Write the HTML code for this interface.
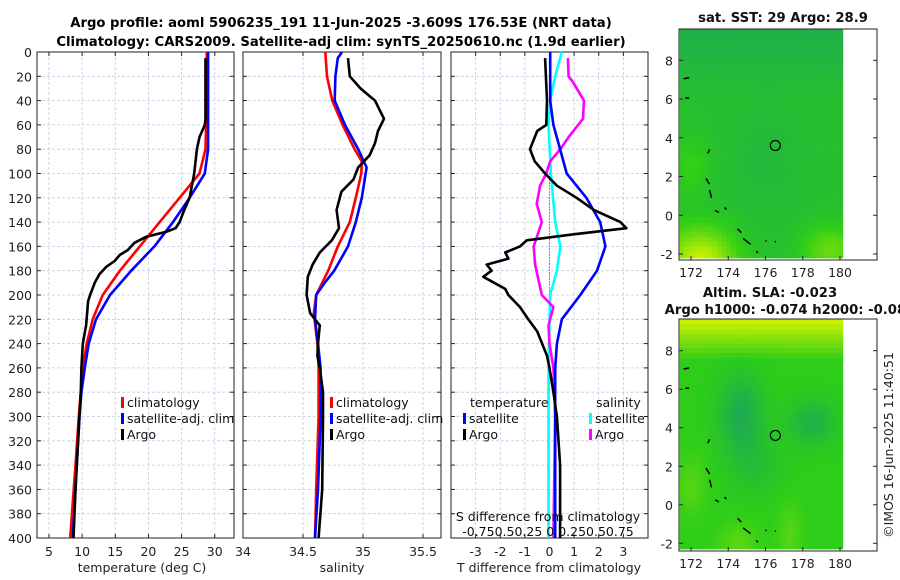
<!DOCTYPE html>
<html><head><meta charset="utf-8"><style>
body{margin:0;background:#fff;}
svg{display:block;font-family:"DejaVu Sans","Liberation Sans",sans-serif;}
</style></head><body>
<svg id="fig" width="900" height="580" viewBox="0 0 900 580">
<rect width="900" height="580" fill="#fff"/>
<text x="341" y="27" text-anchor="middle" font-weight="bold" font-size="13.2">Argo profile: aoml 5906235_191 11-Jun-2025 -3.609S 176.53E (NRT data)</text>
<text x="341" y="46" text-anchor="middle" font-weight="bold" font-size="13.2">Climatology: CARS2009. Satellite-adj clim: synTS_20250610.nc (1.9d earlier)</text>
<g id="panels"></g>
<g id="maps"></g>
<text transform="translate(893,445) rotate(-90)" text-anchor="middle" font-size="12.5" fill="#222">©IMOS 16-Jun-2025 11:40:51</text>
</svg>
<script>
// ---- data (depth in m) ----
const tClimDepth=[0,60,80,100,120,140,160,180,200,220,240,260,280,300,340,400];
const tClimVal=[28.8,28.7,28.6,27.7,24.7,21.7,18.7,15.7,13.1,11.6,10.7,10.1,9.8,9.5,9.0,8.2];
const tSatDepth=[0,40,80,100,120,140,160,180,200,220,240,260,280,300,340,400];
const tSatVal=[29.0,29.0,29.0,28.5,26.2,23.7,20.9,17.4,14.2,12.1,11.0,10.4,9.9,9.6,9.2,8.6];
const tArgoDepth=[5,20,55,60,70,80,100,120,130,140,145,148,152,157,163,167,172,177,183,190,200,205,225,240,260,280,320,360,400];
const tArgoVal=[28.6,28.6,28.6,28.5,27.7,27.3,26.9,26.2,25.4,24.7,24.1,22.7,19.7,17.9,16.9,15.7,14.9,13.6,12.6,11.9,11.2,10.9,10.6,10.1,9.9,9.8,9.4,9.0,8.7];
const sClimDepth=[0,20,40,60,80,90,100,120,140,160,180,200,215,240,260,300,360,400];
const sClimVal=[34.686,34.70,34.744,34.83,34.93,34.99,34.986,34.94,34.89,34.79,34.71,34.61,34.59,34.62,34.63,34.63,34.61,34.60];
const sSatDepth=[0,5,20,40,60,80,95,120,140,160,180,190,200,220,240,260,300,360,400];
const sSatVal=[34.825,34.79,34.77,34.764,34.85,34.96,35.03,34.99,34.94,34.875,34.76,34.68,34.61,34.60,34.625,34.647,34.647,34.625,34.60];
const sArgoDepth=[5,20,30,40,55,65,75,85,95,105,115,130,145,155,165,175,185,200,215,225,240,250,260,280,300,360,400];
const sArgoVal=[34.875,34.89,34.98,35.10,35.175,35.125,35.10,35.055,34.96,34.92,34.82,34.78,34.80,34.74,34.64,34.58,34.54,34.53,34.56,34.64,34.625,34.62,34.64,34.667,34.667,34.66,34.63];
const dTSatDepth=[0,40,60,80,100,120,140,160,180,200,220,240,260,300,400];
const dTSatVal=[0.03,0.03,0.16,0.43,0.7,1.5,2.06,2.27,1.93,1.25,0.5,0.3,0.23,0.23,0.23];
const dTArgoDepth=[5,40,60,65,80,90,100,110,120,130,140,145,150,155,160,165,170,175,180,185,195,200,210,220,230,250,260,280,300,340,400];
const dTArgoVal=[-0.18,-0.1,-0.13,-0.5,-0.79,-0.6,-0.18,0.3,1.1,1.8,2.88,3.12,0.98,-0.92,-1.2,-1.8,-1.67,-2.55,-2.35,-2.69,-1.8,-1.67,-1.2,-0.86,-0.5,-0.1,0.0,0.16,0.3,0.43,0.43];
const dSSatDepth=[0,20,40,60,100,140,160,180,200,220,260,300,400];
const dSSatVal=[0.125,0.058,0.007,-0.01,0.014,0.058,0.11,0.075,0.007,0.0,-0.01,-0.01,-0.01];
const dSArgoDepth=[5,20,25,40,55,70,80,90,100,110,125,140,160,175,200,210,225,240,260,300,400];
const dSArgoVal=[0.187,0.194,0.24,0.35,0.34,0.194,0.11,0.007,-0.034,-0.095,-0.13,-0.078,-0.16,-0.146,-0.078,0.04,-0.01,0.0,0.04,0.058,0.04];
const depthTicks=[0,20,40,60,80,100,120,140,160,180,200,220,240,260,280,300,320,340,360,380,400];
const tTicks=[5,10,15,20,25,30];
const sTicks=[34,34.5,35,35.5];
const dTicks=[-3,-2,-1,0,1,2,3];
const mapLonTicks=[172,174,176,178,180];
const mapLatTicks=[-2,0,2,4,6,8];

const NS='http://www.w3.org/2000/svg';
function mk(tag,attrs,parent,txt){const e=document.createElementNS(NS,tag);for(const k in attrs)e.setAttribute(k,attrs[k]);if(txt!==undefined)e.textContent=txt;parent.appendChild(e);return e;}
const Y0=52,Y1=538;
function yD(d){return Y0+d*(Y1-Y0)/400;}
function lin(a,b,p,q){return v=>p+(v-a)*(q-p)/(b-a);}
const panelsG=document.getElementById('panels');
const panels=[
 {name:'temperature-panel',x0:37,x1:234,sx:lin(3.2,32.9,37,234),ticks:tTicks,leftLabels:true},
 {name:'salinity-panel',x0:243,x1:441,sx:lin(34,35.65,243,441),ticks:sTicks,leftLabels:false},
 {name:'difference-panel',x0:451,x1:648,sx:lin(-4,4,451,648),ticks:dTicks,leftLabels:false}
];
panels.forEach(p=>{
 const g=mk('g',{},panelsG);
 
 
 depthTicks.forEach(d=>{
  const l=mk('line',{x1:p.x0,x2:p.x1,y1:yD(d),y2:yD(d),stroke:'#c4cce4','stroke-width':0.8,'stroke-dasharray':'3,2'},g);
  
  
  mk('line',{x1:p.x0,x2:p.x0+4,y1:yD(d),y2:yD(d),stroke:'#222'},g);
  mk('line',{x1:p.x1-4,x2:p.x1,y1:yD(d),y2:yD(d),stroke:'#222'},g);
  if(p.leftLabels){const t=mk('text',{x:p.x0-5,y:yD(d)+5,'text-anchor':'end','font-size':12.5,fill:'#222'},g,String(d));
   }
 });
 p.ticks.forEach(v=>{
  const x=p.sx(v);
  const l=mk('line',{x1:x,x2:x,y1:Y0,y2:Y1,stroke:'#c4cce4','stroke-width':0.8,'stroke-dasharray':'3,2'},g);
  
  
  mk('line',{x1:x,x2:x,y1:Y1,y2:Y1-4,stroke:'#222'},g);
  mk('line',{x1:x,x2:x,y1:Y0,y2:Y0+4,stroke:'#222'},g);
  const t=mk('text',{x:x,y:556,'text-anchor':'middle','font-size':12.5,fill:'#222'},g,String(v));
  
  
 });
 const r=mk('rect',{x:p.x0,y:Y0,width:p.x1-p.x0,height:Y1-Y0,fill:'none',stroke:'#222','stroke-width':1},g);
 
 
 p.g=g;
});
function line(p,depths,vals,sx,color,name,w){
 const pts=depths.map((d,i)=>sx(vals[i]).toFixed(1)+','+yD(d).toFixed(1)).join(' ');
 const e=mk('polyline',{points:pts,fill:'none',stroke:color,'stroke-width':w||2.6,'stroke-linejoin':'round'},p.g);
 
 
}
const P1=panels[0],P2=panels[1],P3=panels[2];
line(P1,tClimDepth,tClimVal,P1.sx,'#ff0000','temperature-climatology-line');
line(P1,tSatDepth,tSatVal,P1.sx,'#0000ff','temperature-satellite-line');
line(P1,tArgoDepth,tArgoVal,P1.sx,'#000','temperature-argo-line');
line(P2,sClimDepth,sClimVal,P2.sx,'#ff0000','salinity-climatology-line');
line(P2,sSatDepth,sSatVal,P2.sx,'#0000ff','salinity-satellite-line');
line(P2,sArgoDepth,sArgoVal,P2.sx,'#000','salinity-argo-line');
const zl=mk('line',{x1:P3.sx(0),x2:P3.sx(0),y1:yD(100),y2:yD(280),stroke:'#333','stroke-width':1,'stroke-dasharray':'1,2'},P3.g);


const sDx=lin(-1,1,451,648);
line(P3,dSSatDepth,dSSatVal,sDx,'#00ffff','salinity-satellite-diff-line');
line(P3,dSArgoDepth,dSArgoVal,sDx,'#ff00ff','salinity-argo-diff-line');
line(P3,dTSatDepth,dTSatVal,P3.sx,'#0000ff','temperature-satellite-diff-line');
line(P3,dTArgoDepth,dTArgoVal,P3.sx,'#000','temperature-argo-diff-line');

function legend(g,x,y,color,label,name){
 const gg=mk('g',{},g);
 
 
 mk('rect',{x:x,y:y-10,width:3,height:11,fill:color},gg);
 mk('text',{x:x+6,y:y,'font-size':12.5,fill:'#111'},gg,label);
}
legend(P1.g,121,407,'#ff0000','climatology','legend-climatology');
legend(P1.g,121,423,'#0000ff','satellite-adj. clim','legend-satellite-adj');
legend(P1.g,121,439,'#000','Argo','legend-argo');
legend(P2.g,330,407,'#ff0000','climatology','legend-climatology');
legend(P2.g,330,423,'#0000ff','satellite-adj. clim','legend-satellite-adj');
legend(P2.g,330,439,'#000','Argo','legend-argo');
mk('text',{x:470,y:407,'font-size':12.5,fill:'#111'},P3.g,'temperature');
mk('text',{x:596,y:407,'font-size':12.5,fill:'#111'},P3.g,'salinity');
legend(P3.g,463,423,'#0000ff','satellite','legend-temp-satellite');
legend(P3.g,463,439,'#000','Argo','legend-temp-argo');
legend(P3.g,589,423,'#00ffff','satellite','legend-sal-satellite');
legend(P3.g,589,439,'#ff00ff','Argo','legend-sal-argo');
const sl=mk('text',{x:548,y:521,'text-anchor':'middle','font-size':12.5,fill:'#111'},P3.g,'S difference from climatology');

const sn=mk('text',{x:548,y:536,'text-anchor':'middle','font-size':12.5,fill:'#111'},P3.g,'-0.750.50.25 0 0.250.50.75');

const xt=[['temperature (deg C)',142,'temperature-axis-title'],['salinity',342,'salinity-axis-title'],['T difference from climatology',549,'t-diff-axis-title']];
xt.forEach(a=>{const t=mk('text',{x:a[1],y:572,'text-anchor':'middle','font-size':12.5,fill:'#222'},panelsG,a[0]);
 });

// ---- maps ----
const mapsG=document.getElementById('maps');
function col(a,b,t){t=Math.max(0,Math.min(1,t));return 'rgb('+a.map((v,i)=>Math.round(v+(b[i]-v)*t)).join(',')+')';}
function g2(x,y,cx,cy,sx,sy){return Math.exp(-((x-cx)*(x-cx)/(sx*sx)+(y-cy)*(y-cy)/(sy*sy)));}
function sstVal(lon,lat){
 let v=0.28-0.12*Math.max(0,(lat-6)/3);
 v+=0.72*g2(lon,lat,172.5,-2.3,1.8,1.6)+0.35*g2(lon,lat,179.5,-1.8,1.5,1.2)+0.15*g2(lon,lat,172,2.5,1,1.5)-0.06*g2(lon,lat,176,3,2,3);
 return v;}
function slaVal(lon,lat){
 let v=0.4+0.6*Math.max(0,(lat-7.5)/2);
 v-=0.3*g2(lon,lat,174.7,4.7,1.2,2)+0.25*g2(lon,lat,178.5,4.3,1.3,1.2)+0.12*g2(lon,lat,175.5,2,1.5,1.5);
 v+=0.15*g2(lon,lat,172,1,0.8,1.5)+0.18*g2(lon,lat,174.5,-2,1,1)+0.15*g2(lon,lat,177.3,-1.5,0.6,1.6);
 return v;}
function colorOf(v){
 const teal=[25,160,100],grn=[45,205,25],yel=[200,240,0];
 return v<0.4?col(teal,grn,v/0.4):col(grn,yel,(v-0.4)/0.6);}
const coast=[[171.6,7.05,171.9,7.1],[171.7,6.05,171.9,6.05],[172.9,3.2,173.0,3.4],[172.8,1.9,173.0,1.6],[173.0,1.3,173.1,0.9],[173.3,0.25,173.5,0.15],[173.8,0.4,173.9,0.3],[174.5,-0.7,174.7,-0.9],[174.8,-1.2,175.2,-1.5],[175.5,-1.85,175.6,-1.95],[176,-1.3,176.05,-1.35],[176.5,-1.35,176.55,-1.38]];
function drawMap(name,top,bot,latTop,latBot,fn,title){
 const g=mk('g',{},mapsG);
 
 
 const X0=679,X1=877,IX1=847;
 const lx=lin(172,180,691,840);
 const ly=lin(8,-2,latTop,latBot);
 const lat0=8+(latTop-top)/((latBot-latTop)/10);
 const step=0.25;
 for(let lon=171.4;lon<180.1;lon+=step){
  for(let lat=-2.35;lat<lat0;lat+=step){
   const x=lx(lon),y=ly(lat+step);
   const w=Math.min(lx(lon+step),IX1)-x;
   const yy=Math.max(y,top),h=Math.min(ly(lat),bot-2)-yy;
   if(w<=0||h<=0)continue;
   mk('rect',{x:x.toFixed(1),y:yy.toFixed(1),width:(w+0.4).toFixed(1),height:(h+0.4).toFixed(1),fill:colorOf(fn(lon+step/2,lat+step/2))},g);
  }
 }
 coast.forEach(c=>{mk('line',{x1:lx(c[0]),y1:ly(c[1]),x2:lx(c[2]),y2:ly(c[3]),stroke:'#000','stroke-width':1.5},g);});
 const circ=mk('circle',{cx:lx(176.53),cy:ly(3.6),r:5,fill:'none',stroke:'#000','stroke-width':1.2},g);
 
 
 mk('rect',{x:X0,y:top,width:X1-X0,height:bot-top,fill:'none',stroke:'#222'},g);
 mapLonTicks.forEach(v=>{const x=lx(v);mk('line',{x1:x,x2:x,y1:bot,y2:bot-4,stroke:'#222'},g);
  const t=mk('text',{x:x,y:bot+17,'text-anchor':'middle','font-size':12.5,fill:'#222'},g,String(v));
  });
 mapLatTicks.forEach(v=>{const y=ly(v);mk('line',{x1:X1,x2:X1-4,y1:y,y2:y,stroke:'#222'},g);mk('line',{x1:X0,x2:X0+4,y1:y,y2:y,stroke:'#222'},g);
  const t=mk('text',{x:673,y:y+5,'text-anchor':'end','font-size':12.5,fill:'#222'},g,String(v));
  });
 title.forEach((s,i)=>{const t=mk('text',{x:s[1],y:s[2],'text-anchor':'middle','font-weight':'bold','font-size':13.2,fill:'#111'},g,s[0]);
  });
}
drawMap('sst-map',29,260,60.3,254,sstVal,[['sat. SST: 29 Argo: 28.9',783,22]]);
drawMap('sla-map',319,551,350.7,543.3,slaVal,[['Altim. SLA: -0.023',770,297],['Argo h1000: -0.074 h2000: -0.081',790,314]]);
</script>
</body></html>
